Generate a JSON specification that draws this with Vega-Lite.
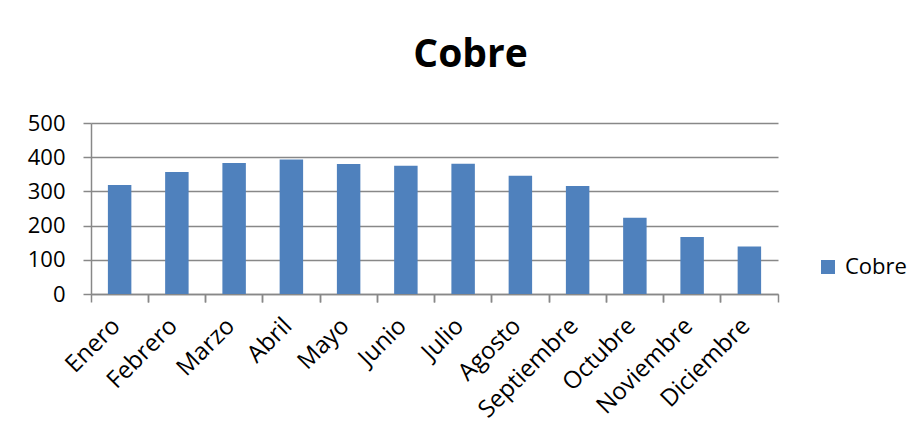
{
  "$schema": "https://vega.github.io/schema/vega-lite/v6.json",
  "autosize": "none",
  "width": 687,
  "height": 171,
  "padding": {"left": 91, "top": 123, "right": 145, "bottom": 141},
  "background": "white",
  "title": {
    "text": "Cobre",
    "font": "Open Sans",
    "fontSize": 39,
    "fontWeight": "bold",
    "color": "black",
    "anchor": "middle",
    "dx": 36,
    "offset": 6,
    "baseline": "alphabetic"
  },
  "data": {
    "values": [
      {"Mes": "Enero", "Valor": 319, "Serie": "Cobre"},
      {"Mes": "Febrero", "Valor": 357, "Serie": "Cobre"},
      {"Mes": "Marzo", "Valor": 383, "Serie": "Cobre"},
      {"Mes": "Abril", "Valor": 393, "Serie": "Cobre"},
      {"Mes": "Mayo", "Valor": 380, "Serie": "Cobre"},
      {"Mes": "Junio", "Valor": 375, "Serie": "Cobre"},
      {"Mes": "Julio", "Valor": 381, "Serie": "Cobre"},
      {"Mes": "Agosto", "Valor": 346, "Serie": "Cobre"},
      {"Mes": "Septiembre", "Valor": 316, "Serie": "Cobre"},
      {"Mes": "Octubre", "Valor": 223, "Serie": "Cobre"},
      {"Mes": "Noviembre", "Valor": 167, "Serie": "Cobre"},
      {"Mes": "Diciembre", "Valor": 139, "Serie": "Cobre"}
    ]
  },
  "config": {
    "view": {"stroke": null},
    "font": "Open Sans",
    "axis": {
      "labelFont": "Open Sans",
      "labelFontSize": 22,
      "labelColor": "black",
      "labelOverlap": false,
      "domainColor": "#888888",
      "tickColor": "#888888",
      "gridColor": "#888888",
      "domainWidth": 1.5,
      "tickWidth": 1.5,
      "gridWidth": 1.3
    }
  },
  "encoding": {
    "y": {
      "field": "Valor",
      "type": "quantitative",
      "scale": {"domain": [0, 500], "nice": false},
      "axis": {
        "title": null,
        "values": [0, 100, 200, 300, 400, 500],
        "tickCount": 6,
        "tickSize": 8,
        "labelPadding": 18,
        "grid": true
      }
    }
  },
  "layer": [
    {
      "mark": {"type": "bar", "width": {"band": 0.41}},
      "encoding": {
        "x": {
          "field": "Mes",
          "type": "nominal",
          "sort": null,
          "scale": {"paddingInner": 0, "paddingOuter": 0},
          "axis": {
            "title": null,
            "orient": "bottom",
            "labelAngle": -45,
            "labelAlign": "right",
            "labelBaseline": "middle",
            "labelFontSize": 24,
            "labelPadding": 28,
            "labelOffset": -3,
            "ticks": false,
            "domain": true,
            "grid": false
          }
        },
        "color": {
          "field": "Serie",
          "type": "nominal",
          "scale": {"range": ["#4F81BD"]},
          "legend": {
            "title": null,
            "orient": "none",
            "legendX": 726,
            "legendY": 133,
            "symbolType": "square",
            "symbolSize": 196,
            "symbolStrokeWidth": 0,
            "labelFont": "Open Sans",
            "labelFontSize": 22,
            "labelColor": "black",
            "labelOffset": 6
          }
        }
      }
    },
    {
      "mark": {"type": "bar", "opacity": 0, "width": {"band": 0.41}},
      "encoding": {
        "x": {
          "field": "Mes",
          "type": "nominal",
          "sort": null,
          "axis": {
            "title": null,
            "orient": "bottom",
            "bandPosition": 0,
            "labels": false,
            "domain": false,
            "grid": false,
            "ticks": true,
            "tickSize": 8
          }
        }
      }
    },
    {
      "mark": {"type": "bar", "opacity": 0, "width": {"band": 0.41}},
      "encoding": {
        "x": {
          "field": "Mes",
          "type": "nominal",
          "sort": null,
          "axis": {
            "title": null,
            "orient": "bottom",
            "bandPosition": 1,
            "labels": false,
            "domain": false,
            "grid": false,
            "ticks": true,
            "tickSize": 8
          }
        }
      }
    }
  ],
  "resolve": {"axis": {"x": "independent"}}
}
